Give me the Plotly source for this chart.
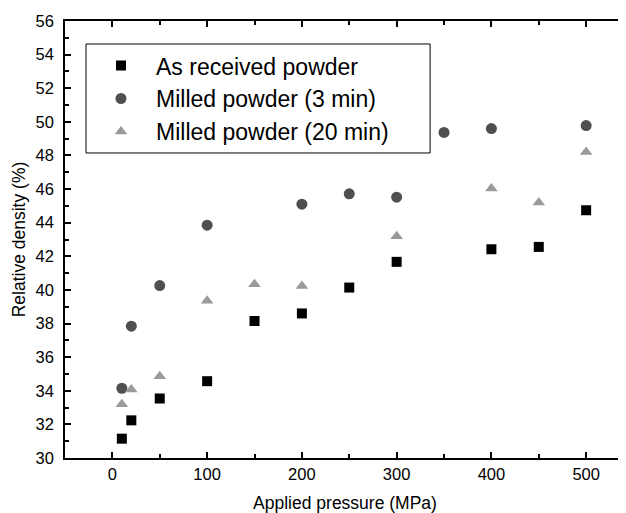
import plotly.graph_objects as go

pressure_as = [10, 20, 50, 100, 150, 200, 250, 300, 400, 450, 500]
density_as = [31.15, 32.24, 33.54, 34.57, 38.15, 38.6, 40.14, 41.67, 42.42, 42.56, 44.74]

pressure_m3 = [10, 20, 50, 100, 200, 250, 300, 350, 400, 500]
density_m3 = [34.15, 37.84, 40.26, 43.85, 45.1, 45.72, 45.52, 49.37, 49.6, 49.78]

pressure_m20 = [10, 20, 50, 100, 150, 200, 300, 400, 450, 500]
density_m20 = [33.2, 34.07, 34.86, 39.35, 40.34, 40.24, 43.2, 46.04, 45.2, 48.2]

FONT = "Arial, Liberation Sans"

fig = go.Figure()
fig.add_trace(go.Scatter(x=pressure_as, y=density_as, mode="markers",
                         name="As received powder",
                         marker=dict(symbol="square", size=10, color="#000000")))
fig.add_trace(go.Scatter(x=pressure_m3, y=density_m3, mode="markers",
                         name="Milled powder (3 min)",
                         marker=dict(symbol="circle", size=11, color="#4f4f4f")))
fig.add_trace(go.Scatter(x=pressure_m20, y=density_m20, mode="markers",
                         name="Milled powder (20 min)",
                         marker=dict(symbol="triangle-up", size=11, color="#9a9a9a")))

axis_common = dict(showline=True, linecolor="black", linewidth=1.5, mirror="ticks",
                   ticks="inside", ticklen=6, tickwidth=1.5, tickcolor="black",
                   showgrid=False, zeroline=False, automargin=False,
                   tickfont=dict(family=FONT, size=16.5, color="black"))

fig.update_xaxes(range=[-50, 541], tickvals=[0, 100, 200, 300, 400, 500],
                 minor=dict(ticks="inside", ticklen=4, tickwidth=1.5, tickcolor="black",
                            tickvals=[50, 150, 250, 350, 450]),
                 title=dict(text="Applied pressure (MPa)", standoff=17,
                            font=dict(family=FONT, size=17.5, color="black")),
                 **axis_common)
fig.update_yaxes(range=[30, 56], dtick=2, tick0=30, ticklabelstandoff=6,
                 minor=dict(ticks="inside", ticklen=4, tickwidth=1.5, tickcolor="black", dtick=1),
                 title=dict(text="Relative density (%)", standoff=5,
                            font=dict(family=FONT, size=17.5, color="black")),
                 **axis_common)

# legend frame (the page adds an 8px body margin; figure sized so the plot area lands right)
fig.add_shape(type="rect", xref="paper", yref="paper",
              x0=0.0375, x1=0.652, y0=0.698, y1=0.9474,
              line=dict(color="black", width=1), fillcolor="white", layer="below")

fig.update_layout(
    width=618, height=505,
    margin=dict(l=57, r=1, t=13, b=55),
    plot_bgcolor="white", paper_bgcolor="white",
    font=dict(family=FONT, color="black"),
    showlegend=True,
    legend=dict(x=0.0375, y=0.947, xanchor="left", yanchor="top",
                bgcolor="rgba(0,0,0,0)", borderwidth=0,
                font=dict(family=FONT, size=23, color="black"),
                itemwidth=60, tracegroupgap=0),
)

fig.write_html("out.html")
